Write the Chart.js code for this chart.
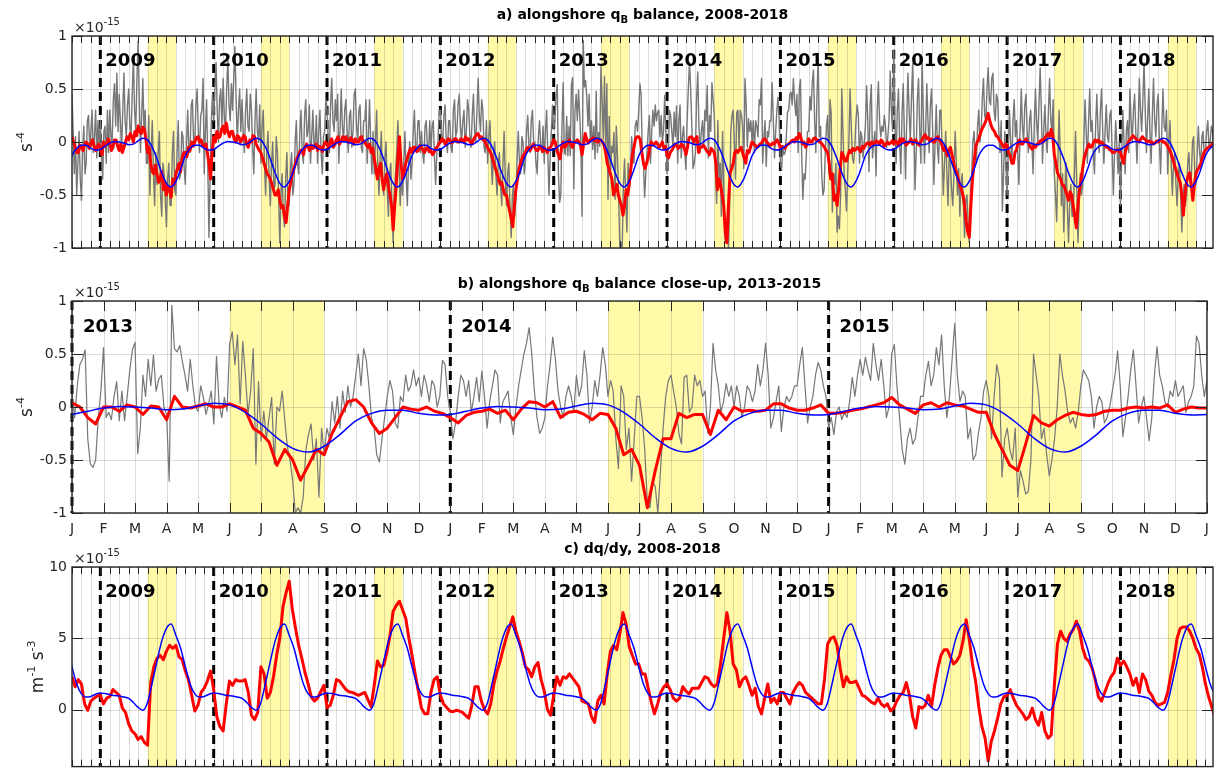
<!DOCTYPE html>
<html>
<head>
<meta charset="utf-8">
<title>Alongshore q_B balance and dq/dy</title>
<script src="https://cdn.jsdelivr.net/npm/chart.js@4.4.1/dist/chart.umd.min.js"></script>
<style>
  html, body { margin: 0; padding: 0; background: #fff; }
  #wrap { position: relative; width: 1217px; height: 780px; overflow: hidden; background: #fff; }
  canvas { position: absolute; left: 0; }
</style>
</head>
<body>
<div id="wrap">
  <canvas id="panelA" width="1217" height="265" style="top:0px;width:1217px;height:265px"></canvas>
  <canvas id="panelB" width="1217" height="275" style="top:265px;width:1217px;height:275px"></canvas>
  <canvas id="panelC" width="1217" height="240" style="top:540px;width:1217px;height:240px"></canvas>
</div>
<script>
// Time axis: months since 1 Jan 2008. Values in units of 1e-15.

// ---- a) alongshore q_B balance, Oct 2008 - Oct 2018 ----
// gray: total balance, 8 samples per month starting Oct 2008 (one row per year)
const grayA = [
  0.45,0.1,-0.3,0.05,-0.5,-0.2,0.1,-0.35, -0.55,-0.1,0.15,-0.3,-0.2,0.2,0.25,-0.05, 0.1,0.3,-0.1,0.05,0.3,-0.15,0.2,-0.05,
  0.2,-0.1,-0.35,0.1,0.15,-0.2,0.3,-0.1, 0.3,0.05,0.0,0.4,0.55,0.15,0.65,0.1, 0.45,0.2,-0.1,0.3,0.65,0.2,0.05,0.35, 0.5,0.15,0.05,0.45,0.8,0.3,0.1,0.6, 0.95,0.4,-0.1,0.25,0.6,0.1,0.3,-0.2, -0.2,0.25,-0.5,-0.1,0.2,-0.3,-0.6,-0.1, -0.4,-0.1,0.1,-0.5,-0.7,-0.2,-0.3,-0.55, -0.8,-0.35,-0.2,-0.6,-0.6,-0.1,0.1,-0.45, -0.5,-0.1,0.2,-0.35,-0.3,0.1,0.05,-0.25, -0.4,0.0,0.3,-0.1,-0.1,0.35,0.4,0.0, 0.0,0.35,0.5,0.1,-0.1,0.25,0.3,0.6, -0.3,0.1,0.4,-0.2,-0.9,-0.3,0.2,0.45,
  0.2,0.5,0.75,0.3,0.0,0.4,0.5,0.15, 0.6,0.25,0.1,0.5,0.8,0.35,0.2,0.55, 0.3,0.6,0.9,0.4,0.0,0.3,0.5,0.1, 0.4,0.1,-0.1,0.3,0.5,0.15,0.1,0.45, 0.3,-0.05,-0.3,0.2,0.5,0.1,0.0,0.35, -0.2,0.15,0.3,-0.2,-0.5,-0.1,0.1,-0.35, -0.6,-0.2,0.0,-0.45,-0.4,0.05,-0.1,-0.5, -0.95,-0.5,-0.3,-0.7,-0.8,-0.35,-0.1,-0.6, -0.6,-0.25,-0.1,-0.5,-0.4,0.0,0.2,-0.2, -0.3,0.1,0.3,-0.1,-0.2,0.25,0.4,0.05, 0.1,0.35,-0.2,0.05,0.3,-0.05,0.0,0.25, -0.2,0.1,0.3,-0.1,-0.3,0.05,0.1,0.4,
  0.3,0.05,-0.1,0.35,0.6,0.2,0.1,0.4, 0.2,0.45,-0.2,0.1,0.5,0.15,0.0,0.3, 0.4,0.1,-0.1,0.25,0.3,-0.05,0.1,0.45, 0.5,0.15,0.0,0.3,0.35,-0.05,-0.1,0.2, 0.2,0.4,-0.2,0.05,0.4,0.0,-0.3,0.1, -0.3,0.0,0.3,-0.2,-0.5,-0.15,0.1,-0.4, -0.5,-0.15,0.0,-0.45,-0.7,-0.3,-0.2,-0.6, -0.95,-0.5,-0.3,-0.1,0.2,-0.2,-0.6,-0.3, -0.5,-0.2,0.1,-0.3,-0.6,-0.2,0.0,-0.35, -0.2,0.1,0.3,-0.05,-0.1,0.2,0.2,-0.1, 0.1,-0.1,-0.2,0.15,0.2,-0.05,-0.1,0.2, -0.1,0.15,0.2,-0.15,-0.4,-0.1,0.0,0.3,
  0.3,0.05,0.0,0.25,0.35,0.0,-0.1,0.2, 0.2,-0.05,-0.1,0.3,0.4,0.05,0.1,0.35, 0.45,0.15,0.0,0.2,0.3,-0.05,0.1,0.4, 0.3,0.05,-0.05,0.25,0.45,0.1,0.0,0.3, 0.6,0.25,0.1,0.4,0.3,-0.05,-0.1,0.2, -0.2,0.05,0.2,-0.15,-0.4,-0.1,0.0,-0.3, -0.5,-0.2,-0.1,-0.4,-0.6,-0.2,0.1,-0.35, -0.6,-0.3,-0.2,-0.65,-0.9,-0.5,-0.4,-0.7, -0.5,-0.15,0.1,-0.2,-0.3,0.05,0.0,-0.3, -0.2,0.1,0.25,-0.05,-0.1,0.2,0.3,0.0, 0.0,-0.2,-0.3,0.05,0.2,-0.05,-0.1,0.15, -0.2,0.1,0.3,-0.1,-0.5,-0.15,0.1,0.35,
  0.12,0.2,0.45,0.54,-0.3,-0.57,-0.5,0.15, 0.56,-0.1,-0.12,0.24,-0.13,0.15,-0.13,0.54, 0.61,-0.44,0.3,0.45,0.2,0.49,0.26,0.0, -0.7,0.96,0.52,0.58,0.43,0.15,0.45,0.0, 0.2,-0.07,0.15,-0.16,0.48,-0.1,0.09,-0.04, 0.71,0.4,0.03,0.62,-0.07,0.55,-0.54,0.24, -0.32,-0.04,-0.1,0.09,-0.54,0.15,-0.13,-0.5, -1.0,-0.95,-1.0,-0.41,-0.16,-0.5,-0.85,-0.2, -0.45,-0.3,0.05,-0.15,-0.2,0.15,0.2,0.1, 0.3,0.55,0.45,-0.1,-0.2,-0.52,-0.3,-0.1, 0.1,0.25,-0.2,0.1,0.3,0.15,0.35,0.2, 0.28,0.3,0.05,0.25,0.0,0.1,0.44,0.1,
  -0.3,-0.15,0.3,0.25,0.1,-0.05,0.28,0.05, 0.34,-0.2,0.2,0.35,-0.15,0.05,0.15,-0.1, -0.26,0.2,0.5,0.75,0.5,0.15,-0.25,-0.2, -0.1,0.4,0.66,0.15,-0.1,0.1,0.2,-0.05, 0.3,0.2,0.53,-0.15,0.25,0.1,0.56,0.4, 0.25,-0.3,-0.58,0.2,-0.4,-0.2,-0.7,0.1, -0.4,-0.9,-0.95,-0.7,-1.0,-0.6,0.1,0.25, 0.3,0.0,-0.35,0.28,0.3,-0.05,0.3,0.25, 0.15,-0.25,0.6,0.35,-0.05,0.22,0.1,0.2, 0.0,0.2,-0.1,0.2,0.15,0.05,0.4,0.35, 0.6,-0.2,0.05,0.2,-0.23,0.1,0.05,0.2, 0.2,0.56,0.2,-0.15,0.1,0.3,0.42,0.2,
  -0.2,-0.26,-0.05,-0.12,-0.1,0.05,0.28,0.3, 0.45,0.47,0.35,0.6,0.4,0.25,0.45,-0.1, 0.5,0.59,-0.1,-0.54,-0.3,-0.35,-0.1,0.1, 0.1,0.43,0.3,0.56,0.68,0.2,-0.1,0.45, 0.79,0.05,0.15,-0.3,-0.5,-0.45,-0.1,0.15, 0.25,-0.3,0.4,0.27,-0.66,-0.3,-0.4,-0.2, -0.85,-0.7,-0.82,-0.5,0.5,0.1,-0.3,-0.45, -0.65,-0.3,0.0,0.5,0.15,-0.15,-0.2,-0.05, 0.2,0.35,0.25,-0.2,0.1,0.05,-0.15,0.0, 0.15,0.53,0.2,-0.28,0.35,0.54,-0.15,0.0, 0.1,-0.32,0.3,0.57,0.2,0.05,0.15,0.1, 0.25,0.15,-0.05,0.05,0.2,0.67,0.3,0.1,
  0.87,0.2,-0.2,0.3,0.5,0.0,-0.3,0.25, 0.55,0.1,-0.35,0.2,0.65,0.3,0.0,0.4, 0.74,0.2,-0.45,-0.1,0.4,0.6,0.1,-0.2, 0.8,0.3,-0.2,0.1,0.55,0.2,-0.1,0.35, 0.5,0.1,-0.4,0.0,0.35,-0.05,-0.2,0.3, 0.3,-0.1,-0.5,-0.2,0.1,-0.3,-0.6,-0.1, -0.2,-0.45,-0.6,-0.3,0.1,-0.2,-0.5,-0.25, -0.7,-0.4,-0.3,-0.6,-0.9,-0.55,-0.5,-0.75, -0.95,-0.5,-0.3,0.0,0.1,-0.15,-0.2,0.15, 0.3,0.0,0.1,0.4,0.6,0.25,0.2,0.5, 0.7,0.4,0.35,0.6,0.65,0.3,0.2,0.45, 0.4,0.1,-0.1,0.2,-0.65,-0.3,0.1,-0.2,
  -0.5,-0.1,0.3,0.0,-0.2,0.2,0.4,0.05, 0.2,-0.1,-0.4,0.1,0.5,0.15,0.0,0.35, 0.45,0.1,-0.1,0.2,0.3,0.0,-0.3,0.15, 0.5,0.2,0.0,0.35,0.7,0.3,-0.2,0.1, 0.35,0.05,-0.1,0.3,0.6,0.2,0.1,0.4, -0.3,-0.5,-0.75,-0.2,0.3,-0.1,-0.6,-0.3, -0.85,-0.5,-0.2,-0.6,-0.95,-0.6,-0.4,-0.7, -0.7,-0.3,0.1,-0.4,-0.95,-0.6,-0.3,-0.5, -0.4,0.0,0.4,0.1,-0.2,0.2,0.5,0.1, 0.2,-0.1,-0.3,0.15,0.45,0.1,-0.1,0.3, 0.5,0.1,-0.2,0.1,0.35,0.05,0.0,0.25, 0.3,-0.1,-0.5,-0.1,0.2,-0.05,-0.3,0.0,
  -0.6,-0.2,0.3,0.0,-0.3,0.1,0.2,-0.1, 0.5,0.2,0.0,0.3,0.45,0.1,-0.2,0.15, 0.6,0.3,0.1,0.4,0.75,0.3,-0.1,0.2, 0.5,0.1,-0.2,0.25,0.6,0.2,0.05,0.35, 0.45,0.0,-0.3,0.1,0.5,0.15,0.1,0.3, -0.3,0.0,0.2,-0.2,-0.5,-0.2,-0.1,-0.4, -0.6,-0.3,-0.2,-0.5,-0.85,-0.5,-0.4,-0.6, -0.5,-0.2,-0.1,-0.4,-0.35,0.0,0.05,-0.3, -0.4,-0.1,0.15,-0.1,-0.2,0.05,0.1,-0.15, -0.1,0.1,0.2,-0.05,0.0,0.15,0.1,-0.05,
  0.05
];
// red: smoothed balance, 6 samples per month starting Oct 2008 (one row per year)
const redA = [
  0.05,0.0,-0.05,-0.1,-0.1,-0.03, -0.05,-0.08,-0.03,0.0,-0.02,-0.06, -0.02,0.02,-0.03,-0.08,-0.05,-0.02,
  -0.06,-0.12,0.0,-0.04,-0.02,0.03, 0.0,-0.08,-0.05,0.02,0.02,-0.04, -0.08,-0.02,-0.1,-0.05,0.0,0.05, 0.02,0.08,0.05,0.0,0.1,0.06, 0.15,0.1,0.08,0.14,0.12,0.02, -0.1,-0.05,-0.2,-0.28,-0.3,-0.22, -0.3,-0.38,-0.35,-0.28,-0.45,-0.38, -0.5,-0.42,-0.45,-0.52,-0.35,-0.4, -0.3,-0.25,-0.2,-0.28,-0.15,-0.1, -0.1,-0.14,-0.05,-0.08,0.0,-0.04, 0.0,0.04,0.05,0.0,0.02,-0.03, -0.05,-0.02,-0.1,-0.2,-0.35,-0.1,
  0.05,0.0,0.1,0.04,0.05,0.12, 0.15,0.08,0.18,0.1,0.05,0.1, 0.1,0.03,0.0,0.06,0.05,0.0, 0.02,0.06,0.05,-0.02,-0.05,0.02, 0.0,0.06,0.05,-0.02,-0.05,-0.08, -0.1,-0.15,-0.2,-0.25,-0.3,-0.32, -0.35,-0.4,-0.45,-0.5,-0.5,-0.45, -0.55,-0.62,-0.6,-0.7,-0.76,-0.6, -0.45,-0.38,-0.3,-0.25,-0.2,-0.15, -0.12,-0.08,-0.08,-0.12,-0.05,-0.02, -0.05,-0.08,-0.03,-0.06,-0.05,-0.02, -0.08,-0.04,-0.05,-0.09,-0.03,0.0,
  -0.02,-0.06,0.0,0.03,-0.05,-0.02, 0.02,0.05,-0.02,0.01,0.05,0.02, 0.05,0.0,0.0,0.04,0.02,-0.02, 0.03,0.0,0.0,0.04,0.05,0.0, 0.0,-0.03,-0.05,-0.02,-0.1,-0.06, -0.15,-0.25,-0.35,-0.25,-0.2,-0.35, -0.45,-0.35,-0.3,-0.42,-0.5,-0.6, -0.83,-0.6,-0.4,-0.15,0.05,-0.2, -0.35,-0.28,-0.2,-0.15,-0.1,-0.06, -0.1,-0.05,-0.05,-0.09,-0.08,-0.03, -0.05,-0.08,-0.1,-0.06,-0.05,-0.09, -0.08,-0.12,-0.1,-0.06,-0.05,-0.02,
  0.0,0.03,0.02,-0.02,0.0,0.03, 0.02,-0.01,0.0,0.03,0.03,0.0, 0.0,0.03,0.02,0.0,0.05,0.02, 0.03,0.0,-0.02,0.02,0.05,0.07, 0.08,0.04,0.05,0.02,0.02,-0.02, -0.05,-0.08,-0.1,-0.15,-0.2,-0.25, -0.3,-0.35,-0.4,-0.38,-0.45,-0.5, -0.5,-0.58,-0.65,-0.72,-0.8,-0.6, -0.45,-0.35,-0.25,-0.2,-0.15,-0.12, -0.1,-0.06,-0.05,-0.08,-0.05,-0.02, -0.05,-0.08,-0.08,-0.04,-0.05,-0.09, -0.05,-0.08,-0.1,-0.06,-0.05,-0.02,
  0.02,0.0,-0.08,-0.12,-0.16,-0.05, 0.0,-0.05,-0.03,0.0,0.02,-0.03, -0.05,0.0,0.0,0.02,0.0,-0.03, -0.12,-0.02,0.08,0.02,-0.01,0.02, 0.02,0.04,0.01,0.03,0.0,0.02, 0.02,0.0,-0.03,-0.1,-0.2,-0.25, -0.3,-0.35,-0.5,-0.45,-0.4,-0.5, -0.55,-0.6,-0.69,-0.6,-0.45,-0.5, -0.4,-0.25,-0.12,-0.05,0.03,0.05, 0.05,0.02,-0.1,-0.2,-0.25,-0.2, -0.15,-0.05,0.0,-0.03,-0.02,0.0, -0.02,-0.05,-0.03,0.0,-0.06,-0.04,
  -0.12,-0.15,-0.1,-0.08,-0.05,-0.02, -0.03,-0.06,-0.05,-0.02,-0.03,-0.06, -0.12,-0.05,0.04,0.05,0.04,0.0, 0.03,0.05,-0.1,-0.05,-0.05,-0.03, -0.05,-0.08,-0.1,-0.12,-0.06,-0.08, -0.1,-0.2,-0.45,-0.35,-0.4,-0.5, -0.6,-0.85,-0.95,-0.6,-0.3,-0.25, -0.2,-0.1,-0.08,-0.1,-0.07,-0.05, -0.1,-0.15,-0.2,-0.08,-0.1,-0.05, 0.0,-0.02,-0.03,-0.05,-0.04,-0.02, -0.01,0.02,0.03,0.01,-0.01,-0.03, -0.03,-0.01,-0.02,0.0,0.02,-0.01,
  -0.06,-0.04,-0.05,-0.06,-0.03,-0.02, -0.01,0.01,0.02,0.0,0.04,0.03, 0.08,0.04,-0.02,0.0,-0.05,-0.02, 0.03,0.0,0.0,0.03,0.04,0.02, 0.02,0.0,-0.01,-0.03,-0.05,-0.08, -0.1,-0.2,-0.35,-0.3,-0.55,-0.5, -0.6,-0.45,-0.25,-0.1,-0.13,-0.18, -0.18,-0.12,-0.08,-0.1,-0.06,-0.08, -0.07,-0.05,-0.07,-0.09,-0.04,-0.06, -0.03,-0.01,-0.01,-0.03,0.0,-0.02, -0.01,0.01,0.0,-0.02,0.02,0.0, -0.04,-0.02,0.0,-0.02,-0.01,0.01,
  -0.02,0.01,0.0,-0.03,0.03,0.0, 0.03,0.0,-0.03,-0.01,0.0,0.03, -0.02,0.01,0.02,-0.01,-0.03,0.0, 0.02,0.05,0.07,0.03,0.04,0.01, 0.03,0.0,0.0,0.04,0.05,0.02, 0.0,-0.05,-0.08,-0.05,-0.13,-0.08, -0.05,-0.12,-0.19,-0.25,-0.29,-0.35, -0.41,-0.45,-0.5,-0.6,-0.75,-0.85, -0.9,-0.6,-0.35,-0.2,-0.05,0.0, 0.03,0.08,0.12,0.15,0.18,0.22, 0.27,0.2,0.15,0.12,0.1,0.06, 0.05,0.02,0.0,-0.03,-0.05,-0.02,
  -0.03,-0.1,-0.13,-0.2,-0.2,-0.1, -0.07,0.0,0.02,-0.02,-0.02,0.01, 0.03,0.0,-0.02,-0.05,-0.07,-0.03, -0.05,-0.02,-0.02,0.01,0.02,0.0, 0.04,0.06,0.08,0.05,0.12,0.06, -0.12,-0.2,-0.29,-0.32,-0.35,-0.4, -0.41,-0.45,-0.5,-0.55,-0.47,-0.5, -0.6,-0.7,-0.81,-0.6,-0.45,-0.35, -0.25,-0.15,-0.1,-0.05,-0.02,-0.05, -0.04,0.0,0.02,0.0,0.02,-0.01, 0.0,-0.02,-0.03,-0.05,-0.05,-0.07, -0.08,-0.1,-0.1,-0.08,-0.07,-0.09,
  -0.1,-0.15,-0.2,-0.1,-0.05,0.0, 0.02,0.04,0.06,0.04,0.03,0.01, 0.0,0.03,0.05,0.03,0.02,0.0, 0.01,0.0,0.0,-0.02,-0.01,0.01, 0.0,0.02,0.02,0.0,0.0,-0.02, -0.04,-0.07,-0.1,-0.15,-0.2,-0.25, -0.3,-0.35,-0.38,-0.5,-0.69,-0.5, -0.38,-0.32,-0.29,-0.4,-0.55,-0.4, -0.3,-0.26,-0.24,-0.2,-0.15,-0.1, -0.08,-0.06,-0.05,-0.04,-0.03,0.0,
  0.03
];
// blue: seasonal climatology of the balance, two values per month (1st, 15th)
const climA = [-0.07,-0.04,-0.01,0.005,0.0,-0.01,-0.025,-0.02,0.01,0.035,0.02,-0.05,
               -0.16,-0.29,-0.39,-0.425,-0.37,-0.26,-0.13,-0.06,-0.03,-0.03,-0.06,-0.075];

// ---- b) close-up, Jan 2013 - Jan 2016 ----
// gray: 12 samples per month (one row per quarter)
const grayB = [
  0.12,-0.1,0.2,0.4,0.45,0.54,-0.3,-0.54,-0.57,-0.5,-0.1,0.15, 0.56,-0.1,-0.05,-0.12,0.1,0.24,-0.13,0.15,-0.13,0.1,0.35,0.54, 0.61,-0.44,-0.2,0.3,0.1,0.45,0.2,0.49,0.15,0.26,0.3,0.0,
  -0.07,-0.7,0.96,0.55,0.52,0.58,0.43,0.3,0.15,0.45,0.2,0.0, -0.04,0.2,0.09,-0.07,0.03,0.15,-0.16,0.48,0.03,-0.1,0.09,-0.04, 0.59,0.71,0.4,0.68,0.03,0.62,0.3,-0.07,0.15,0.55,-0.54,0.24,
  -0.32,-0.04,-0.3,-0.1,0.09,-0.54,0.0,-0.04,0.15,-0.13,-0.38,-0.5, -0.7,-1.0,-0.95,-1.0,-0.85,-0.41,-0.26,-0.16,-0.5,-0.3,-0.85,-0.2, -0.45,-0.2,-0.3,0.05,-0.15,0.1,-0.2,0.15,-0.05,0.2,0.0,0.1,
  0.3,0.5,0.2,0.55,0.45,0.2,-0.1,-0.2,-0.45,-0.52,-0.3,-0.1, 0.1,0.25,0.15,-0.15,-0.2,0.1,0.05,0.3,0.15,0.2,0.35,0.2, 0.28,0.1,0.3,0.2,0.05,0.25,0.2,0.0,0.1,0.44,0.4,0.1,
  -0.05,-0.3,-0.15,0.1,0.3,0.25,0.1,0.25,-0.05,0.1,0.28,0.05, 0.34,0.1,-0.2,0.05,0.2,0.35,0.3,-0.15,0.05,0.1,0.15,-0.1, -0.26,0.0,0.2,0.35,0.5,0.6,0.75,0.5,0.15,-0.1,-0.25,-0.2,
  -0.1,0.2,0.4,0.66,0.45,0.15,0.0,-0.1,0.1,0.2,0.1,-0.05, 0.3,0.1,0.2,0.53,0.3,-0.15,0.0,0.25,0.1,0.3,0.56,0.4, 0.1,0.25,0.15,-0.3,-0.58,0.2,0.1,-0.4,-0.2,-0.7,-0.3,0.1,
  0.1,-0.1,-0.4,-0.9,-0.95,-0.7,-0.75,-1.0,-0.6,-0.2,0.1,0.25, 0.3,0.15,0.0,-0.25,-0.35,0.28,0.3,-0.05,0.0,0.3,0.2,0.25, 0.1,0.15,-0.25,0.0,0.6,0.35,0.2,-0.05,0.05,0.22,0.1,0.2,
  0.0,0.2,0.1,-0.1,0.0,0.2,0.15,0.05,0.15,0.4,0.2,0.35, 0.6,0.3,-0.2,-0.1,0.05,0.2,-0.23,0.0,0.1,0.05,0.1,0.2, 0.2,0.4,0.56,0.2,-0.15,0.0,0.1,0.3,0.42,0.35,0.2,0.1,
  -0.2,-0.1,-0.26,-0.05,0.0,-0.12,-0.05,-0.1,0.05,0.28,0.1,0.3, 0.45,0.3,0.47,0.35,0.25,0.6,0.4,0.25,0.45,0.2,-0.1,0.0, 0.5,0.59,0.2,-0.1,-0.4,-0.54,-0.3,-0.2,-0.35,-0.3,-0.1,0.1,
  0.1,0.3,0.43,0.2,0.3,0.56,0.4,0.68,0.2,-0.1,0.1,0.45, 0.79,0.3,0.05,0.15,0.1,-0.3,-0.2,-0.5,-0.45,-0.25,-0.1,0.15, 0.25,0.1,-0.3,0.1,0.4,0.27,-0.66,-0.3,-0.2,-0.4,-0.5,-0.2,
  -0.85,-0.6,-0.7,-0.82,-0.8,-0.5,0.5,0.3,0.1,-0.3,-0.2,-0.45, -0.65,-0.5,-0.3,0.0,0.5,0.3,0.15,-0.05,-0.15,-0.1,-0.2,-0.05, 0.2,0.35,0.3,0.25,0.1,-0.2,0.0,0.1,0.05,-0.15,-0.1,0.0,
  0.15,0.3,0.53,0.2,-0.28,-0.1,0.1,0.35,0.54,0.2,-0.15,0.0, 0.1,-0.1,-0.32,-0.1,0.3,0.57,0.3,0.2,0.05,0.0,0.15,0.1, 0.25,0.1,0.15,0.2,-0.05,0.05,0.1,0.2,0.67,0.6,0.3,0.1,
  0.25
];
// red: 4 samples per month
const redB = [
  0.04,0.0,-0.1,-0.16, 0.0,0.0,-0.04,0.02, 0.0,-0.07,0.01,0.0, -0.12,0.1,0.0,-0.01, 0.01,0.03,0.0,0.0, 0.03,0.0,-0.03,-0.2,
  -0.25,-0.33,-0.55,-0.4, -0.5,-0.69,-0.55,-0.4, -0.45,-0.25,-0.1,0.05, 0.07,0.0,-0.15,-0.25, -0.2,-0.1,0.0,-0.02, -0.03,0.0,-0.04,-0.06,
  -0.1,-0.15,-0.08,-0.05, -0.04,-0.02,-0.06,-0.03, -0.12,-0.02,0.05,0.04, 0.0,0.05,-0.1,-0.05, -0.04,-0.07,-0.12,-0.06, -0.07,-0.2,-0.45,-0.4,
  -0.55,-0.95,-0.6,-0.3, -0.3,-0.06,-0.1,-0.07, -0.07,-0.26,-0.03,-0.12, 0.0,-0.04,-0.03,-0.04, -0.03,0.03,0.03,-0.01, -0.03,-0.03,-0.01,0.02,
  -0.06,-0.06,-0.05,-0.03, -0.02,0.0,0.02,0.04, 0.09,0.02,-0.02,-0.06, 0.02,0.04,0.0,0.04, 0.02,0.01,-0.02,-0.05, -0.05,-0.25,-0.4,-0.55,
  -0.6,-0.35,-0.08,-0.15, -0.18,-0.12,-0.08,-0.05, -0.07,-0.08,-0.07,-0.04, -0.03,-0.03,-0.01,0.0, -0.01,0.0,-0.01,0.02, -0.05,-0.02,0.0,-0.01,
  -0.01
];

// ---- c) dq/dy, Oct 2008 - Oct 2018 ----
// red: 3 samples per month starting Oct 2008
const redC = [
  2.3,1.6,2.1, 1.8,0.4,-0.05, 0.6,0.8,0.95,
  1.0,0.4,0.8, 0.9,1.4,1.2, 1.0,0.1,-0.2, -1.0,-1.5,-1.7, -2.1,-1.9,-2.3, -2.5,1.9,3.0, 3.6,3.8,3.5, 4.1,4.5,4.3, 4.5,3.7,3.5, 2.7,2.1,1.0, -0.1,0.3,1.2, 1.5,2.0,2.7,
  1.4,-0.5,-1.2, -1.5,0.4,2.0, 1.7,2.1,2.0, 2.0,2.1,1.2, -0.4,-0.7,-0.2, 3.0,2.5,0.8, 1.2,2.3,3.8, 5.0,7.2,8.2, 9.0,7.0,5.7, 4.5,3.6,2.6, 1.8,0.9,0.6, 0.8,1.25,1.7,
  0.15,0.3,1.0, 2.1,2.0,1.7, 1.4,1.25,1.2, 1.1,1.0,1.1, 1.2,0.7,0.2, 1.7,3.4,3.0, 3.1,4.0,5.2, 6.9,7.3,7.6, 7.0,6.4,5.0, 3.8,2.5,1.3, 0.1,-0.3,-0.3, 1.2,2.1,2.3,
  1.0,0.4,0.15, -0.1,-0.15,-0.05, -0.1,-0.2,-0.4, -0.6,0.3,1.6, 1.6,0.6,0.0, -0.3,0.4,1.8, 2.7,3.4,4.3, 5.1,5.8,6.5, 5.5,4.8,4.0, 3.0,2.8,2.3, 3.0,3.3,2.1, 1.3,0.0,-0.4,
  1.0,2.3,1.7, 2.3,2.2,2.5, 2.2,1.9,1.6, 0.6,0.5,0.4, -0.5,-0.9,0.6, 1.0,0.4,2.5, 4.1,4.5,4.2, 5.3,6.8,6.0, 4.4,3.8,3.2, 3.2,2.5,2.5, 1.5,0.5,-0.3, 0.4,1.2,1.6,
  1.8,1.4,0.8, 0.6,0.8,1.6, 1.3,1.1,1.5, 1.5,1.5,1.9, 2.3,2.2,1.8, 1.6,1.8,3.2, 5.0,6.8,5.5, 3.2,2.8,1.6, 2.1,2.3,1.7, 1.0,1.5,0.2, -0.3,0.8,1.8, 0.5,0.8,0.4,
  1.2,1.2,0.8, 0.4,1.2,1.6, 1.9,1.7,1.2, 1.0,0.8,0.6, 0.4,0.4,2.1, 4.6,5.0,5.1, 4.5,2.9,1.6, 2.3,1.9,1.9, 2.0,1.5,1.0, 0.9,0.7,0.5, 0.4,0.8,0.4, 0.2,0.4,-0.1,
  0.1,0.6,1.0, 1.2,1.9,1.0, -0.5,-1.3,0.2, 0.1,0.3,1.0, 0.2,1.7,2.9, 3.8,4.2,4.2, 3.7,3.2,3.4, 3.8,4.8,6.3, 4.9,3.2,2.0, 0.2,-1.2,-2.0, -3.6,-2.2,-1.5, -0.6,0.4,0.9,
  1.0,1.4,0.8, 0.3,0.0,-0.3, -0.7,-0.5,0.1, -0.7,-1.1,-0.2, -1.5,-2.0,-1.8, 1.7,4.6,5.5, 5.0,4.8,5.3, 5.6,6.2,5.5, 4.3,3.6,3.4, 2.9,2.1,0.9, 0.6,1.2,1.8, 2.3,2.6,3.6,
  3.1,3.4,3.0, 2.5,1.7,2.2, 1.2,2.5,2.1, 1.3,1.0,0.5, 0.3,0.4,0.5, 1.2,2.4,3.5, 5.0,5.7,5.8, 5.8,5.5,5.0, 4.3,3.9,3.0, 1.8,0.9,0.2,
  -0.5
];
// blue: seasonal climatology of dq/dy, two values per month (1st, 15th)
const climC = [1.17,1.12,1.05,0.98,0.95,0.88,0.78,0.5,0.15,-0.05,0.5,1.9,
               3.4,4.8,5.7,6.0,5.2,4.3,3.0,1.8,1.1,0.88,0.92,1.08];

const yearsAC = [2009,2010,2011,2012,2013,2014,2015,2016,2017,2018];
const yearsB = [2013,2014,2015];
const monthLetters = ['J','F','M','A','M','J','J','A','S','O','N','D'];

// ---------- helpers ----------
const FONT = "'DejaVu Sans', sans-serif";
Chart.defaults.font.family = FONT;
Chart.defaults.color = '#262626';

function series(values, startMonth, perMonth) {
  return values.map((v, i) => ({ x: startMonth + i / perMonth, y: v }));
}
function climatology(values, firstYear, lastYear) {
  const pts = [];
  for (let yr = firstYear; yr <= lastYear; yr++) {
    values.forEach((v, k) => pts.push({ x: (yr - 2008) * 12 + k / 2, y: v }));
  }
  pts.push({ x: (lastYear + 1 - 2008) * 12, y: values[0] });
  return pts;
}
function monthOf(yr, m) { return (yr - 2008) * 12 + m; }

// text runs with sub/superscripts
function richWidth(ctx, parts) {
  let w = 0;
  for (const p of parts) { ctx.font = p.font; w += ctx.measureText(p.t).width; }
  return w;
}
function drawRich(ctx, parts, x, y) {
  for (const p of parts) {
    ctx.font = p.font;
    ctx.fillText(p.t, x, y + (p.dy || 0));
    x += ctx.measureText(p.t).width;
  }
}

const framePlugin = {
  id: 'frame',
  beforeDatasetsDraw(chart, args, o) {
    const { ctx, chartArea: ca } = chart;
    const xs = chart.scales.x, ys = chart.scales.y;
    ctx.save();
    // June-August shading
    ctx.fillStyle = '#fff9a8';
    for (const yr of o.summers) {
      const x0 = Math.max(ca.left, xs.getPixelForValue(monthOf(yr, 5)));
      const x1 = Math.min(ca.right, xs.getPixelForValue(monthOf(yr, 8)));
      if (x1 > x0) ctx.fillRect(x0, ca.top, x1 - x0, ca.bottom - ca.top);
    }
    // monthly and value grid
    ctx.strokeStyle = 'rgba(38,38,38,0.16)';
    ctx.lineWidth = 1;
    ctx.beginPath();
    for (let m = Math.ceil(xs.min); m <= xs.max; m++) {
      const px = Math.round(xs.getPixelForValue(m)) + 0.5;
      ctx.moveTo(px, ca.top); ctx.lineTo(px, ca.bottom);
    }
    for (const t of ys.ticks) {
      const py = Math.round(ys.getPixelForValue(t.value)) + 0.5;
      ctx.moveTo(ca.left, py); ctx.lineTo(ca.right, py);
    }
    ctx.stroke();
    // new-year dashed lines
    ctx.strokeStyle = '#000';
    ctx.lineWidth = 3;
    ctx.setLineDash([9, 5]);
    ctx.beginPath();
    for (const yr of o.years) {
      const px = xs.getPixelForValue(monthOf(yr, 0));
      ctx.moveTo(px, ca.top); ctx.lineTo(px, ca.bottom);
    }
    ctx.stroke();
    ctx.restore();
  },
  afterDatasetsDraw(chart, args, o) {
    const { ctx, chartArea: ca } = chart;
    const xs = chart.scales.x, ys = chart.scales.y;
    ctx.save();
    // axes box and inward ticks
    ctx.strokeStyle = '#262626';
    ctx.lineWidth = 1;
    ctx.beginPath();
    for (let m = Math.ceil(xs.min); m <= xs.max; m++) {
      const px = Math.round(xs.getPixelForValue(m)) + 0.5;
      ctx.moveTo(px, ca.top); ctx.lineTo(px, ca.top + o.xTick);
      ctx.moveTo(px, ca.bottom); ctx.lineTo(px, ca.bottom - o.xTick);
    }
    for (const t of ys.ticks) {
      const py = Math.round(ys.getPixelForValue(t.value)) + 0.5;
      ctx.moveTo(ca.left, py); ctx.lineTo(ca.left + 11, py);
      ctx.moveTo(ca.right, py); ctx.lineTo(ca.right - 11, py);
    }
    ctx.stroke();
    ctx.lineWidth = 1.4;
    ctx.strokeRect(ca.left, ca.top, ca.right - ca.left, ca.bottom - ca.top);

    // year labels
    ctx.fillStyle = '#000';
    ctx.textBaseline = 'alphabetic';
    ctx.textAlign = 'left';
    ctx.font = "bold 18px " + FONT;
    for (const yr of o.labels) {
      const px = xs.getPixelForValue(monthOf(yr, 0));
      ctx.fillText(String(yr), px + o.labelDx, ca.top + o.labelDy);
    }

    // panel title
    ctx.fillStyle = '#000';
    const tw = richWidth(ctx, o.title);
    drawRich(ctx, o.title, (ca.left + ca.right) / 2 - tw / 2, o.titleY);

    // exponent label
    ctx.fillStyle = '#262626';
    drawRich(ctx, [
      { t: '\u00d710', font: '14px ' + FONT },
      { t: '-15', font: '10px ' + FONT, dy: -7 }
    ], ca.left + 2, ca.top - 4);

    // y-axis unit label, rotated
    ctx.translate(o.unitX, (ca.top + ca.bottom) / 2);
    ctx.rotate(-Math.PI / 2);
    const uw = richWidth(ctx, o.unit);
    drawRich(ctx, o.unit, -uw / 2, 0);
    ctx.restore();
  }
};

const boldT = 'bold 14px ' + FONT;
const boldSub = 'bold 10px ' + FONT;
const unitFont = '17px ' + FONT;
const supFont = '11px ' + FONT;

function lineSet(data, color, width, smooth) {
  return {
    data, borderColor: color, borderWidth: width, pointRadius: 0,
    fill: false, tension: 0, clip: 0, borderJoinStyle: 'round',
    cubicInterpolationMode: smooth ? 'monotone' : 'default'
  };
}

function yAxis(min, max, ticksFn) {
  return {
    min, max,
    grid: { display: false, drawTicks: false },
    border: { display: false },
    ticks: { font: { size: 14, family: FONT }, color: '#262626', padding: 5,
             callback: v => String(v) },
    afterBuildTicks: ticksFn,
    afterFit: s => { s.width = 72; }
  };
}

function makePanel(id, cfg) {
  return new Chart(document.getElementById(id), {
    type: 'line',
    data: { datasets: cfg.datasets },
    plugins: [framePlugin],
    options: {
      responsive: false, animation: false, events: [],
      layout: { padding: cfg.padding },
      scales: { x: cfg.x, y: cfg.y },
      plugins: { legend: { display: false }, tooltip: { enabled: false }, frame: cfg.frame }
    }
  });
}

const halfStep = s => { s.ticks = [-1, -0.5, 0, 0.5, 1].map(v => ({ value: v })); };

// a) full record
makePanel('panelA', {
  padding: { left: 0, right: 4, top: 36, bottom: 17 },
  datasets: [
    lineSet(climatology(climA, 2008, 2018), '#0000ff', 1.5, true),
    lineSet(series(redA, 9, 6), '#ff0000', 3, false),
    lineSet(series(grayA, 9, 8), '#777777', 1.4, false)
  ],
  x: { type: 'linear', min: 9, max: 129.8, display: false },
  y: yAxis(-1, 1, halfStep),
  frame: {
    summers: yearsAC, years: yearsAC, labels: yearsAC, labelDx: 5, labelDy: 30, xTick: 7,
    titleY: 19, unitX: 32,
    title: [{ t: 'a) alongshore q', font: boldT }, { t: 'B', font: boldSub, dy: 4 },
            { t: ' balance, 2008-2018', font: boldT }],
    unit: [{ t: 's', font: unitFont }, { t: '-4', font: supFont, dy: -8 }]
  }
});

// b) 2013-2015 close-up with month letters
makePanel('panelB', {
  padding: { left: 0, right: 3, top: 36, bottom: 0 },
  datasets: [
    lineSet(climatology(climA, 2013, 2015), '#0000ff', 1.5, true),
    lineSet(series(redB, 60, 4), '#ff0000', 3, false),
    lineSet(series(grayB, 60, 12), '#777777', 1.2, false)
  ],
  x: {
    type: 'linear', min: 60, max: 96,
    grid: { display: false, drawTicks: false },
    border: { display: false },
    afterBuildTicks: s => {
      const t = [];
      for (let m = 60; m <= 96; m++) t.push({ value: m });
      s.ticks = t;
    },
    ticks: { autoSkip: false, maxRotation: 0, minRotation: 0, padding: 8,
             font: { size: 14, family: FONT }, color: '#262626',
             callback: v => monthLetters[((v % 12) + 12) % 12] },
    afterFit: s => { s.height = 27; }
  },
  y: yAxis(-1, 1, halfStep),
  frame: {
    summers: yearsB, years: yearsB, labels: yearsB, labelDx: 11, labelDy: 31, xTick: 10,
    titleY: 23, unitX: 32,
    title: [{ t: 'b) alongshore q', font: boldT }, { t: 'B', font: boldSub, dy: 4 },
            { t: ' balance close-up, 2013-2015', font: boldT }],
    unit: [{ t: 's', font: unitFont }, { t: '-4', font: supFont, dy: -8 }]
  }
});

// c) dq/dy
makePanel('panelC', {
  padding: { left: 0, right: 4, top: 27, bottom: 2 },
  datasets: [
    lineSet(climatology(climC, 2008, 2018), '#0000ff', 1.5, true),
    lineSet(series(redC, 9, 3), '#ff0000', 3, false)
  ],
  x: { type: 'linear', min: 9, max: 129.8, display: false },
  y: yAxis(-4, 10, s => { s.ticks = [0, 5, 10].map(v => ({ value: v })); }),
  frame: {
    summers: yearsAC, years: yearsAC, labels: yearsAC, labelDx: 5, labelDy: 30, xTick: 7,
    titleY: 13, unitX: 43,
    title: [{ t: 'c) dq/dy, 2008-2018', font: boldT }],
    unit: [{ t: 'm', font: unitFont }, { t: '-1', font: supFont, dy: -8 },
           { t: ' s', font: unitFont }, { t: '-3', font: supFont, dy: -8 }]
  }
});
</script>
</body>
</html>
